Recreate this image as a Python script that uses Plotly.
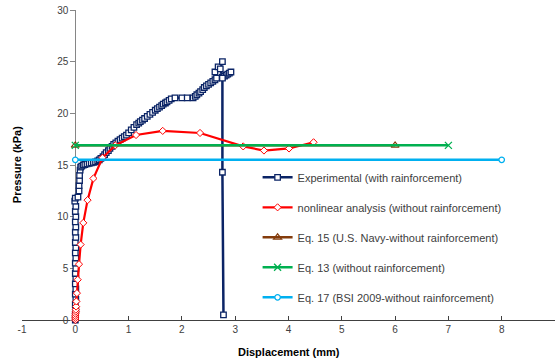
import plotly.graph_objects as go

# ---------------- data ----------------
exp_x = [0.00, 0.00, 0.01, 0.00, 0.01, 0.00, 0.01, 0.00, 0.01, 0.00, 0.01, 0.00,
         0.01, 0.00, 0.01, 0.00, 0.01, 0.00, 0.01, 0.00, 0.01, 0.00, 0.01, -0.01,
         0.00, 0.05, 0.07, 0.07, 0.08, 0.08, 0.09, 0.10, 0.12, 0.15, 0.18, 0.22,
         0.26, 0.30, 0.34, 0.38, 0.42, 0.45, 0.48, 0.52, 0.55, 0.58, 0.62, 0.65,
         0.69, 0.72, 0.76, 0.80, 0.84, 0.88, 0.92, 0.96, 1.00, 1.05, 1.10, 1.15,
         1.19, 1.22, 1.26, 1.30, 1.35, 1.40, 1.45, 1.50, 1.54, 1.58, 1.62, 1.65,
         1.69, 1.72, 1.76, 1.80, 1.87, 2.00, 2.10, 2.21, 2.25, 2.28, 2.32, 2.35,
         2.39, 2.42, 2.46, 2.50, 2.54, 2.58, 2.62, 2.65, 2.62, 2.68, 2.76, 2.72,
         2.76, 2.80, 2.83, 2.86, 2.89, 2.92, 2.76, 2.76, 2.78]
exp_y = [0.0, 0.5, 1.0, 1.5, 2.0, 2.5, 3.0, 3.5, 4.0, 4.5, 5.0, 5.5,
         6.0, 6.5, 7.0, 7.5, 8.0, 8.5, 9.0, 9.5, 10.0, 10.5, 11.0, 11.5,
         11.8, 11.9, 12.5, 13.0, 13.5, 14.0, 14.5, 14.8, 14.9, 15.0, 15.05, 15.1,
         15.15, 15.2, 15.25, 15.3, 15.4, 15.5, 15.65, 15.8, 16.0, 16.2, 16.4, 16.6,
         16.8, 17.0, 17.15, 17.3, 17.45, 17.6, 17.75, 17.9, 18.1, 18.4, 18.65, 18.9,
         19.05, 19.2, 19.35, 19.5, 19.7, 19.9, 20.1, 20.3, 20.45, 20.6, 20.75, 20.9,
         21.0, 21.1, 21.25, 21.4, 21.5, 21.5, 21.5, 21.5, 21.65, 21.8, 21.95, 22.1,
         22.3, 22.5, 22.65, 22.8, 22.95, 23.1, 23.25, 23.4, 24.0, 24.5, 25.0, 24.3,
         23.5, 23.6, 23.7, 23.8, 23.9, 24.0, 23.4, 14.3, 0.5]

nl_x = [0.00, 0.00, 0.00, 0.005, 0.01, 0.01, 0.015, 0.02, 0.03, 0.045, 0.07,
        0.10, 0.15, 0.23, 0.34, 0.51, 0.75, 1.14, 1.64, 2.34, 3.15, 3.54, 4.01, 4.47]
nl_y = [0.0, 0.2, 0.4, 0.6, 0.8, 1.0, 1.3, 1.8, 2.6, 3.9, 5.4,
        7.3, 9.4, 11.6, 13.7, 15.7, 16.9, 17.9, 18.3, 18.1, 16.8, 16.4, 16.6, 17.2]

eq15_x = [0, 6]
eq15_y = [16.9, 16.9]
eq13_x = [0, 7]
eq13_y = [16.9, 16.9]
eq17_x = [0, 8]
eq17_y = [15.5, 15.5]

x_ticks = [-1, 0, 1, 2, 3, 4, 5, 6, 7, 8, 9]
y_ticks = [0, 5, 10, 15, 20, 25, 30]

names = ["Experimental (with rainforcement)",
         "nonlinear analysis (without rainforcement)",
         "Eq. 15 (U.S. Navy-without rainforcement)",
         "Eq. 13 (without rainforcement)",
         "Eq. 17 (BSI 2009-without rainforcement)"]

# ---------------- figure ----------------
fig = go.Figure()

fig.add_trace(go.Scatter(
    x=exp_x, y=exp_y, name=names[0], mode="lines+markers", legendgroup="a",
    line=dict(color="#0B2466", width=2.5),
    marker=dict(symbol="square", size=5.5, color="white",
                line=dict(color="#0B2466", width=1.3)),
    cliponaxis=False))

fig.add_trace(go.Scatter(
    x=nl_x, y=nl_y, name=names[1], mode="lines+markers", legendgroup="b",
    line=dict(color="#FF0000", width=2.2),
    marker=dict(symbol="diamond", size=5.5, color="white",
                line=dict(color="#FF0000", width=1)),
    cliponaxis=False))

fig.add_trace(go.Scatter(
    x=eq15_x, y=eq15_y, name=names[2], mode="lines+markers", legendgroup="c",
    line=dict(color="#843C0C", width=2.5),
    marker=dict(symbol="triangle-up-open", size=7,
                line=dict(color="#9A5A3A", width=1.2)),
    cliponaxis=False))

fig.add_trace(go.Scatter(
    x=eq13_x, y=eq13_y, name=names[3], mode="lines+markers", legendgroup="d",
    line=dict(color="#00B050", width=2.5),
    marker=dict(symbol="x-thin-open", size=7,
                line=dict(color="#4FD07A", width=1.3)),
    cliponaxis=False))

fig.add_trace(go.Scatter(
    x=eq17_x, y=eq17_y, name=names[4], mode="lines+markers", legendgroup="e",
    line=dict(color="#00B0F0", width=2.5),
    marker=dict(symbol="circle", size=5.5, color="white",
                line=dict(color="#00B0F0", width=1.3)),
    cliponaxis=False))

fig.update_layout(
    width=558, height=359, autosize=False,
    margin=dict(l=22, r=3, t=10, b=39, autoexpand=False),
    paper_bgcolor="white", plot_bgcolor="white",
    font=dict(family="Liberation Sans, Arial, sans-serif", color="#595959"),
    showlegend=True,
    legend=dict(x=0.442, y=0.507, xanchor="left", yanchor="top",
                bgcolor="rgba(0,0,0,0)", font=dict(size=11, color="#404040"),
                tracegroupgap=11, itemwidth=30),
    xaxis=dict(range=[-1, 9], tickvals=x_ticks, ticktext=[str(v) for v in x_ticks],
               showline=True, linecolor="#404040", linewidth=1,
               ticks="inside", ticklen=4, tickcolor="#404040",
               tickfont=dict(size=10, color="#404040"), automargin=False,
               showgrid=False, zeroline=False, layer="below traces"),
    yaxis=dict(range=[0, 30], tickvals=y_ticks, ticktext=[str(v) for v in y_ticks],
               anchor="free", position=0.1, automargin=False,
               showline=True, linecolor="#868686", linewidth=1,
               ticks="outside", ticklen=5, tickcolor="#868686",
               tickfont=dict(size=10, color="#404040"),
               showgrid=False, zeroline=False, layer="below traces"),
    annotations=[
        dict(text="<b>Displacement (mm)</b>", xref="paper", yref="paper",
             x=0.5, y=-0.103, xanchor="center", yanchor="middle", showarrow=False,
             font=dict(size=11, color="#000000")),
        dict(text="<b>Pressure (kPa)</b>", xref="paper", yref="paper",
             x=-0.009, y=0.5, xanchor="center", yanchor="middle", showarrow=False,
             textangle=-90, font=dict(size=11, color="#000000")),
    ],
)

fig.write_html("out.html",
               config={"displayModeBar": False},
               post_script="document.body.style.margin='0';"
                           "document.body.style.overflow='hidden';")
